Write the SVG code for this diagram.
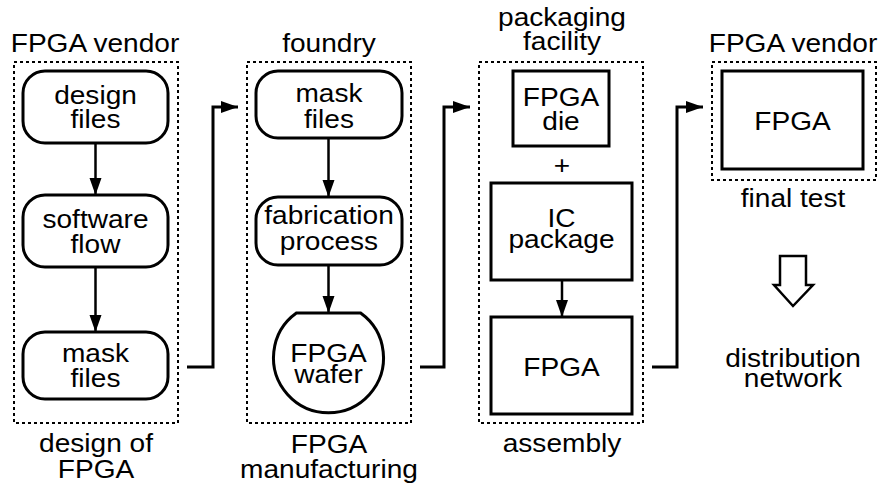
<svg xmlns="http://www.w3.org/2000/svg" width="878" height="484" viewBox="0 0 878 484">
<defs>
<style>
text{font-family:"Liberation Sans",Arial,Helvetica,sans-serif;font-size:26px;fill:#000;text-anchor:middle}
.node{fill:#fff;stroke:#000;stroke-width:3}
.zone{fill:none;stroke:#000;stroke-width:2;stroke-dasharray:3 3}
.conn{fill:none;stroke:#000;stroke-width:3}
.short{fill:none;stroke:#000;stroke-width:2.5}
</style>
<marker id="ah" markerUnits="userSpaceOnUse" markerWidth="18" markerHeight="14" viewBox="0 0 18 14" refX="17" refY="7" orient="auto">
<path d="M0,1 L17,7 L0,13 Z" fill="#000"/>
</marker>
</defs>
<rect width="878" height="484" fill="#fff"/>

<g id="zones">
<rect class="zone" x="14" y="62" width="164" height="361"/>
<rect class="zone" x="247" y="62" width="164" height="361"/>
<rect class="zone" x="479" y="62" width="164" height="361"/>
<rect class="zone" x="712" y="62" width="164" height="118"/>
</g>

<g id="labels">
<text transform="translate(95,52) scale(1.08,1)">FPGA vendor</text>
<text transform="translate(96,452) scale(1.08,1)"><tspan x="0" y="0">design of</tspan><tspan x="0" y="26">FPGA</tspan></text>
<text transform="translate(329,52) scale(1.08,1)">foundry</text>
<text transform="translate(329,453) scale(1.08,1)"><tspan x="0" y="0">FPGA</tspan><tspan x="0" y="25">manufacturing</tspan></text>
<text transform="translate(562,26) scale(1.08,1)"><tspan x="0" y="0">packaging</tspan><tspan x="0" y="24">facility</tspan></text>
<text transform="translate(562,452) scale(1.08,1)">assembly</text>
<text transform="translate(793,52) scale(1.08,1)">FPGA vendor</text>
<text transform="translate(793,207) scale(1.08,1)">final test</text>
<text transform="translate(562,174) scale(1.08,1)">+</text>
</g>

<g id="n-design-files">
<rect class="node" x="23" y="71" width="145" height="72" rx="22"/>
<text transform="translate(95.5,104) scale(1.08,1)"><tspan x="0" y="0">design</tspan><tspan x="0" y="24.5">files</tspan></text>
</g>
<g id="n-software-flow">
<rect class="node" x="23" y="195" width="145" height="72" rx="22"/>
<text transform="translate(95.5,228) scale(1.08,1)"><tspan x="0" y="0">software</tspan><tspan x="0" y="25">flow</tspan></text>
</g>
<g id="n-mask-files-1">
<rect class="node" x="23" y="332" width="145" height="67" rx="22"/>
<text transform="translate(95.5,362) scale(1.08,1)"><tspan x="0" y="0">mask</tspan><tspan x="0" y="25">files</tspan></text>
</g>

<g id="n-mask-files-2">
<rect class="node" x="256" y="71" width="146" height="67" rx="22"/>
<text transform="translate(329,102) scale(1.08,1)"><tspan x="0" y="0">mask</tspan><tspan x="0" y="26">files</tspan></text>
</g>
<g id="n-fabrication">
<rect class="node" x="256" y="197" width="146" height="68" rx="22"/>
<text transform="translate(329,224) scale(1.08,1)"><tspan x="0" y="0">fabrication</tspan><tspan x="0" y="26">process</tspan></text>
</g>
<g id="n-wafer">
<path class="node" d="M296.4,313 A55,55 0 1 0 360.6,313 Z"/>
<text transform="translate(328.5,362) scale(1.08,1)"><tspan x="0" y="0">FPGA</tspan><tspan x="0" y="21">wafer</tspan></text>
</g>

<g id="n-die">
<rect class="node" x="513" y="71" width="96" height="75"/>
<text transform="translate(561,106) scale(1.08,1)"><tspan x="0" y="0">FPGA</tspan><tspan x="0" y="24">die</tspan></text>
</g>
<g id="n-ic-package">
<rect class="node" x="491" y="183" width="141" height="97"/>
<text transform="translate(561.5,227) scale(1.08,1)"><tspan x="0" y="0">IC</tspan><tspan x="0" y="21">package</tspan></text>
</g>
<g id="n-fpga-assembled">
<rect class="node" x="491" y="317" width="141" height="97"/>
<text transform="translate(561.5,376) scale(1.08,1)">FPGA</text>
</g>

<g id="n-fpga-final">
<rect class="node" x="722" y="71" width="141" height="98"/>
<text transform="translate(792.5,130) scale(1.08,1)">FPGA</text>
</g>

<g id="n-distribution">
<text transform="translate(793,367) scale(1.08,1)"><tspan x="0" y="0">distribution</tspan><tspan x="0" y="20">network</tspan></text>
</g>

<g id="connectors">
<line class="short" x1="95.5" y1="143" x2="95.5" y2="195" marker-end="url(#ah)"/>
<line class="short" x1="95.5" y1="267" x2="95.5" y2="332" marker-end="url(#ah)"/>
<line class="short" x1="328.5" y1="138" x2="328.5" y2="197" marker-end="url(#ah)"/>
<line class="short" x1="328.5" y1="265" x2="328.5" y2="313" marker-end="url(#ah)"/>
<line class="short" x1="562" y1="280" x2="562" y2="317" marker-end="url(#ah)"/>
<path class="conn" d="M187,367 H213 V107 H238" marker-end="url(#ah)"/>
<path class="conn" d="M420,367 H444 V107 H470" marker-end="url(#ah)"/>
<path class="conn" d="M652,367 H677 V107 H703" marker-end="url(#ah)"/>
<polygon fill="#fff" stroke="#000" stroke-width="2.5" points="780,256 806,256 806,285 813,285 793,306 774,285 780,285"/>
</g>
</svg>
